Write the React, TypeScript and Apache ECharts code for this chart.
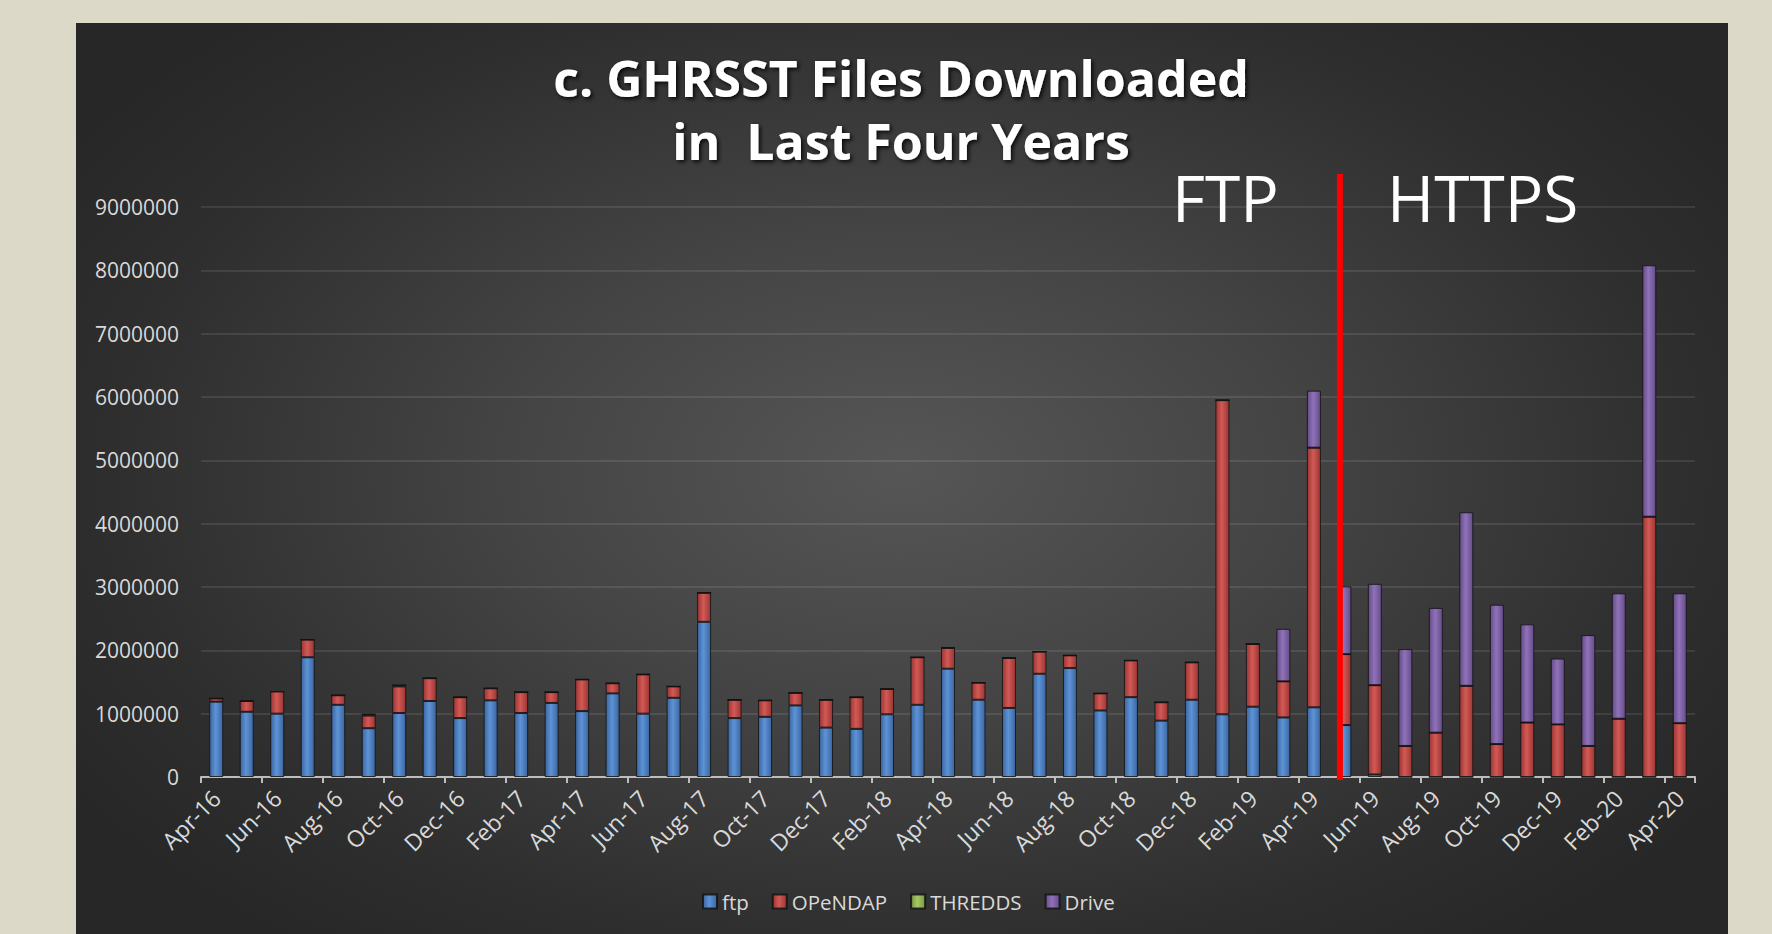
import React, { useEffect, useRef } from "react";
import * as echarts from "echarts";

const months: string[] = [
  "Apr-16", "May-16", "Jun-16", "Jul-16", "Aug-16", "Sep-16", "Oct-16", "Nov-16", "Dec-16",
  "Jan-17", "Feb-17", "Mar-17", "Apr-17", "May-17", "Jun-17", "Jul-17", "Aug-17", "Sep-17",
  "Oct-17", "Nov-17", "Dec-17", "Jan-18", "Feb-18", "Mar-18", "Apr-18", "May-18", "Jun-18",
  "Jul-18", "Aug-18", "Sep-18", "Oct-18", "Nov-18", "Dec-18", "Jan-19", "Feb-19", "Mar-19",
  "Apr-19", "May-19", "Jun-19", "Jul-19", "Aug-19", "Sep-19", "Oct-19", "Nov-19", "Dec-19",
  "Jan-20", "Feb-20", "Mar-20", "Apr-20",
];

const ftp: number[] = [
  1190000, 1030000, 1000000, 1890000, 1140000, 770000, 1010000, 1200000, 930000,
  1210000, 1010000, 1170000, 1040000, 1320000, 1000000, 1250000, 2450000, 930000,
  950000, 1130000, 780000, 760000, 990000, 1140000, 1710000, 1220000, 1090000,
  1630000, 1720000, 1050000, 1260000, 890000, 1220000, 990000, 1110000, 940000,
  1100000, 820000, 40000, 0, 0, 0, 0, 0, 0,
  0, 0, 0, 0,
];

const opendap: number[] = [
  50000, 170000, 350000, 280000, 150000, 200000, 420000, 360000, 330000,
  190000, 330000, 170000, 500000, 160000, 620000, 180000, 460000, 290000,
  260000, 200000, 440000, 500000, 400000, 750000, 330000, 270000, 790000,
  350000, 200000, 270000, 580000, 290000, 590000, 4960000, 990000, 570000,
  4100000, 1120000, 1410000, 490000, 700000, 1440000, 520000, 860000, 830000,
  490000, 920000, 4110000, 850000,
];

const thredds: number[] = [
  0, 0, 0, 0, 0, 20000, 20000, 0, 0,
  0, 0, 0, 0, 0, 0, 0, 0, 0,
  0, 0, 0, 0, 0, 0, 0, 0, 0,
  0, 0, 0, 0, 0, 0, 0, 0, 0,
  0, 0, 0, 0, 0, 0, 0, 0, 0,
  0, 0, 0, 0,
];

const drive: number[] = [
  0, 0, 0, 0, 0, 0, 0, 0, 0,
  0, 0, 0, 0, 0, 0, 0, 0, 0,
  0, 0, 0, 0, 0, 0, 0, 0, 0,
  0, 0, 0, 0, 0, 0, 0, 0, 830000,
  900000, 1070000, 1600000, 1530000, 1970000, 2740000, 2200000, 1550000, 1040000,
  1750000, 1980000, 3970000, 2050000,
];

const seriesNames = ["ftp", "OPeNDAP", "THREDDS", "Drive"];
const titleLines = ["c. GHRSST Files Downloaded", "in  Last Four Years"];
const dividerCategory = "May-19";

const FONT = "'Open Sans', 'Noto Sans', sans-serif";

function grad(dark: string, light: string) {
  return new echarts.graphic.LinearGradient(0, 0, 1, 0, [
    { offset: 0, color: dark },
    { offset: 0.45, color: light },
    { offset: 1, color: dark },
  ]);
}

export default function App() {
  const ref = useRef<HTMLDivElement>(null);

  useEffect(() => {
    if (!ref.current) return;
    const chart = echarts.init(ref.current, undefined, { renderer: "svg" });
    const colors = [
      grad("#3b66a0", "#5d93d6"),
      grad("#9a3634", "#d35955"),
      grad("#7a9640", "#a8c866"),
      grad("#664c8a", "#8f72b8"),
    ];
    const datasets = [ftp, opendap, thredds, drive];

    chart.setOption({
      animation: false,
      backgroundColor: "transparent",
      textStyle: { fontFamily: FONT },
      grid: { left: 201, right: 77, top: 207, bottom: 157 },
      legend: {
        left: 702,
        top: 891,
        padding: 0,
        icon: "rect",
        itemWidth: 14,
        itemHeight: 14,
        itemGap: 23,
        data: seriesNames,
        textStyle: { color: "#d9d9d9", fontSize: 20.5, fontFamily: FONT },
      },
      xAxis: {
        type: "category",
        data: months,
        boundaryGap: true,
        axisLine: { show: true, lineStyle: { color: "#bdbdbd", width: 2 } },
        axisTick: { show: true, interval: 1, length: 6, lineStyle: { color: "#bdbdbd", width: 2 } },
        axisLabel: {
          interval: 1,
          rotate: 45,
          margin: 17,
          color: "#d9d9d9",
          fontSize: 23,
          fontFamily: FONT,
        },
        splitLine: { show: false },
      },
      yAxis: {
        type: "value",
        min: 0,
        max: 9000000,
        interval: 1000000,
        axisLine: { show: false },
        axisTick: { show: false },
        axisLabel: {
          color: "#d9d9d9",
          fontSize: 21,
          margin: 22,
          fontFamily: FONT,
          formatter: (v: number) => String(v),
        },
        splitLine: { lineStyle: { color: "rgba(255,255,255,0.13)", width: 1.5 } },
      },
      series: seriesNames.map((name, i) => ({
        name,
        type: "bar",
        stack: "total",
        barWidth: 14,
        data: datasets[i],
        itemStyle: {
          color: colors[i],
          borderColor: "rgba(20,20,20,0.85)",
          borderWidth: 1,
        },
      })),
    });

    const xDiv = (chart.convertToPixel({ xAxisIndex: 0 }, dividerCategory) as number) - 4.5;
    const yZero = chart.convertToPixel({ yAxisIndex: 0 }, 0) as number;

    const shadow = {
      textShadowColor: "rgba(0,0,0,0.85)",
      textShadowBlur: 4,
      textShadowOffsetX: 2,
      textShadowOffsetY: 2,
    };

    chart.setOption({
      graphic: [
        {
          type: "text",
          x: 901,
          y: 78,
          style: {
            text: titleLines[0],
            fill: "#ffffff",
            font: `bold 50px ${FONT}`,
            align: "center",
            verticalAlign: "middle",
            ...shadow,
          },
        },
        {
          type: "text",
          x: 901,
          y: 141,
          style: {
            text: titleLines[1],
            fill: "#ffffff",
            font: `bold 50px ${FONT}`,
            align: "center",
            verticalAlign: "middle",
            ...shadow,
          },
        },
        {
          type: "line",
          shape: { x1: xDiv, y1: 174, x2: xDiv, y2: yZero + 3 },
          style: { stroke: "#ff0000", lineWidth: 6 },
          z: 100,
        },
        {
          type: "text",
          x: 1172,
          y: 197,
          style: {
            text: "FTP",
            fill: "#ffffff",
            font: `64px ${FONT}`,
            align: "left",
            verticalAlign: "middle",
          },
        },
        {
          type: "text",
          x: 1387,
          y: 197,
          style: {
            text: "HTTPS",
            fill: "#ffffff",
            font: `64px ${FONT}`,
            align: "left",
            verticalAlign: "middle",
          },
        },
      ],
    });

    return () => chart.dispose();
  }, []);

  return (
    <div
      style={{
        position: "fixed",
        left: 0,
        top: 0,
        width: 1772,
        height: 934,
        background: "#dcd9c8",
        overflow: "hidden",
      }}
    >
      <div
        style={{
          position: "absolute",
          left: 76,
          top: 23,
          width: 1652,
          height: 930,
          background:
            "radial-gradient(ellipse 60% 65% at 50% 48%, #565656 0%, #444444 40%, #2e2e2e 80%, #272727 100%)",
        }}
      />
      <div ref={ref} style={{ position: "absolute", left: 0, top: 0, width: 1772, height: 934 }} />
    </div>
  );
}
